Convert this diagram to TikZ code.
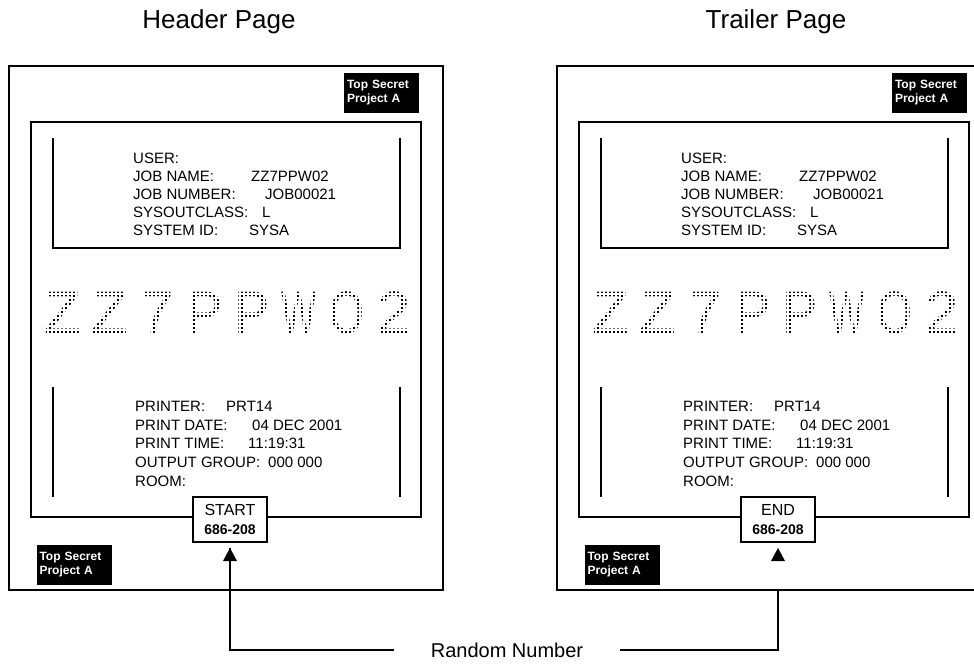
\documentclass[tikz,border=0pt]{standalone}
\usepackage{fontspec}
\setmainfont{Liberation Sans}
\usetikzlibrary{positioning,arrows.meta}

\begin{document}
\begin{tikzpicture}[x=1pt, y=-1pt,
  title/.style={font=\fontsize{26}{30}\selectfont, inner sep=0},
  secret/.style={fill=black, text=white, font=\fontsize{12}{14}\selectfont\bfseries, align=left, text width=69pt, inner xsep=3pt, minimum height=40pt},
  info/.style={anchor=base west, inner sep=0, font=\fontsize{15}{18}\selectfont},
  tagbox/.style={draw, line width=1.4pt, fill=white, align=center, minimum width=74pt, minimum height=45pt, inner sep=2pt, font=\fontsize{16}{20}\selectfont},
  bigchar/.style={anchor=base, inner sep=0, font=\fontsize{60}{60}\selectfont},
  dotmask/.style={white, line width=2.2pt},
  conn/.style={line width=1.2pt}
]
\useasboundingbox (0,0) rectangle (974,664);

\foreach \dx/\pg/\ttl/\tag/\lw/\tx in {0/h/Header Page/START/2.2/219, 548/t/Trailer Page/END/1.1/228} {
  \begin{scope}[xshift=\dx pt]
    \node[title] (\pg-title) at (\tx,22) {\ttl};
    % sheet and inner frame
    \draw[line width=\lw pt] (9,66) rectangle (443,590);
    \draw[line width=\lw pt] (31,122) rectangle (421,517);
    \node[secret] (\pg-sec1) at (381.5,93) {Top Secret\\Project A};
    \node[secret] (\pg-sec2) at (74,565) {Top Secret\\Project A};
    % job block
    \draw[line width=1.2pt] (53,138) -- (53,248) -- (400,248) -- (400,138);
    \node[info] (\pg-l1) at (133,163) {USER:};
    \node[info] (\pg-l2) at (133,181) {JOB NAME:};
    \node[info] (\pg-v2) at (251,181) {ZZ7PPW02};
    \node[info] (\pg-l3) at (133,199) {JOB NUMBER:};
    \node[info] (\pg-v3) at (265,199) {JOB00021};
    \node[info] (\pg-l4) at (133,217) {SYSOUTCLASS:};
    \node[info] (\pg-v4) at (262,217) {L};
    \node[info] (\pg-l5) at (133,235) {SYSTEM ID:};
    \node[info] (\pg-v5) at (249,235) {SYSA};
    % big job name, broken into dots by a white grid
    \foreach \c/\s [count=\i from 0] in {Z/1,Z/1,7/1,P/0.88,P/0.88,W/0.62,O/0.75,2/1}
      \node[bigchar] (\pg-c\i) at ({63+47.3*\i},333) {\scalebox{\s}[1]{\c}};
    \foreach \gx in {36,40,...,416}
      \draw[dotmask] (\gx,284) -- (\gx,340);
    \foreach \gy in {286,290,...,338}
      \draw[dotmask] (36,\gy) -- (416,\gy);
    % print block
    \draw[line width=1.2pt] (53,387) -- (53,497);
    \draw[line width=1.2pt] (400,387) -- (400,497);
    \node[info] (\pg-p1) at (135,411) {PRINTER:};
    \node[info] (\pg-q1) at (226,411) {PRT14};
    \node[info] (\pg-p2) at (135,430) {PRINT DATE:};
    \node[info] (\pg-q2) at (252,430) {04 DEC 2001};
    \node[info] (\pg-p3) at (135,448) {PRINT TIME:};
    \node[info] (\pg-q3) at (248,448) {11:19:31};
    \node[info] (\pg-p4) at (135,467) {OUTPUT GROUP:};
    \node[info] (\pg-q4) at (268,467) {000 000};
    \node[info] (\pg-p5) at (135,486) {ROOM:};
    % separator tag
    \node[tagbox] (\pg-tag) at (230,519.5) {\tag\\[-1pt]{\fontsize{14}{16}\selectfont\bfseries 686-208}};
    \coordinate (\pg-tip) at (230,548);
    \fill (\pg-tip) -- ++(7,13) -- ++(-14,0) -- cycle;
    \coordinate (\pg-foot) at (230,590);
  \end{scope}
}

\node[font=\fontsize{20}{24}\selectfont, inner xsep=37pt, inner ysep=0] (rn) at (507,650) {Random Number};
\draw[conn] (rn.west) -| (h-tip);
\draw[conn] (rn.east) -| (t-foot);
\end{tikzpicture}
\end{document}
